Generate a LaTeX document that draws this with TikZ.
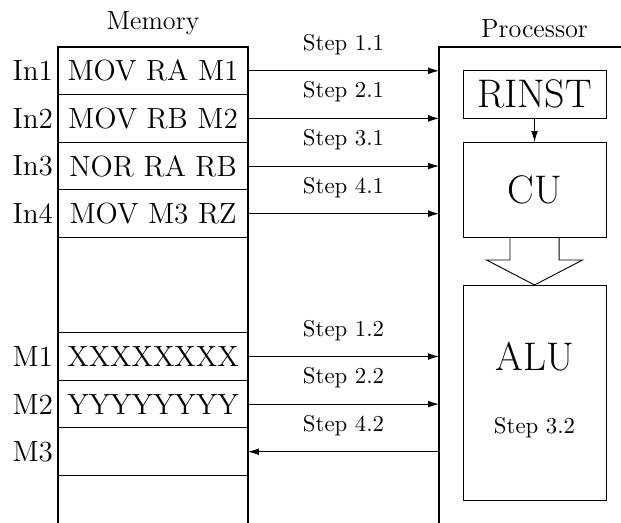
\documentclass[tikz,border=0pt]{standalone}
\usepackage{tikz}
\usetikzlibrary{arrows.meta, positioning, calc}

\begin{document}
\begin{tikzpicture}[
			node distance=0cm,
			cell/.style={rectangle, draw=black, minimum width=2.929cm,
				minimum height=0.734cm, inner sep=0pt, outer sep=0pt,
				font=\fontsize{12.8pt}{15pt}\selectfont},
			blank/.style={rectangle, minimum width=2.929cm,
				minimum height=0.734cm, inner sep=0pt, outer sep=0pt},
			tag/.style={font=\fontsize{12.8pt}{15pt}\selectfont, inner sep=1pt},
			head/.style={font=\fontsize{11.5pt}{13pt}\selectfont},
			unit/.style={rectangle, draw=black, minimum width=2.204cm,
				outer sep=0pt, font=\fontsize{17.5pt}{20pt}\selectfont},
			wall/.style={draw=black, semithick},
			arr/.style={-{Latex[length=4.8pt, width=3pt]}, draw=black},
			steplbl/.style={above=3.5pt}
			]
			\useasboundingbox (0,0) rectangle (9.573,-8.062);
			\coordinate (base) at (0,-8.062);
			\coordinate (proc) at (6.767,-0.7245);
			\coordinate (edge) at (9.573,-0.7245);
			
			% memory
			\node[cell] (in1) at (2.359,-1.0915) {MOV RA M1};
			\node[cell, below=of in1] (in2) {MOV RB M2};
			\node[cell, below=of in2] (in3) {NOR RA RB};
			\node[cell, below=of in3] (in4) {MOV M3 RZ};
			\node[blank, below=of in4] (gapa) {};
			\node[blank, below=of gapa] (gapb) {};
			\node[cell, below=of gapb] (m1) {XXXXXXXX};
			\node[cell, below=of m1] (m2) {YYYYYYYY};
			\node[cell, below=of m2] (m3) {};
			\draw[wall] (in1.north west |- base) -- (in1.north west)
				-- (in1.north east) -- (in1.north east |- base);
			
			\node[tag, left=1pt of in1] (t1) {In1};
			\node[tag, left=1pt of in2] (t2) {In2};
			\node[tag, left=1pt of in3] (t3) {In3};
			\node[tag, left=1pt of in4] (t4) {In4};
			\node[tag, left=1pt of m1] (t5) {M1};
			\node[tag, left=1pt of m2] (t6) {M2};
			\node[tag, left=1pt of m3] (t7) {M3};
			\node[head, above=2pt of in1] (memlbl) {Memory};
			
			% processor
			\draw[wall] (proc |- base) -- (proc) -- (edge);
			\node[unit, minimum height=0.74cm] (rinst) at (8.240,-1.449) {RINST};
			\node[unit, minimum height=1.464cm, below=0.37cm of rinst] (cu) {CU};
			\node[unit, minimum height=3.314cm, below=0.74cm of cu] (alu) {};
			\node[font=\fontsize{17.5pt}{20pt}\selectfont] (alulbl) at ($(alu)+(0,0.55)$) {ALU};
			\node (alustep) at ($(alu)+(0,-0.55)$) {Step 3.2};
			\coordinate (ptop) at (rinst |- proc);
			\node[head, above=0.5pt of ptop] (proclbl) {Processor};
			
			\draw[arr] (rinst) -- (cu);
			\draw ($(cu.south)+(-0.378,0)$) -- ++(0,-0.355) -- ++(-0.362,0)
				-- (alu.north) -- ++(0.74,0.385) -- ++(-0.362,0)
				-- ($(cu.south)+(0.378,0)$);
			
			% transfers
			\draw[arr] (in1.east) -- (in1 -| proc) node[midway, steplbl] (s11) {Step 1.1};
			\draw[arr] (in2.east) -- (in2 -| proc) node[midway, steplbl] (s21) {Step 2.1};
			\draw[arr] (in3.east) -- (in3 -| proc) node[midway, steplbl] (s31) {Step 3.1};
			\draw[arr] (in4.east) -- (in4 -| proc) node[midway, steplbl] (s41) {Step 4.1};
			\draw[arr] (m1.east) -- (m1 -| proc) node[midway, steplbl] (s12) {Step 1.2};
			\draw[arr] (m2.east) -- (m2 -| proc) node[midway, steplbl] (s22) {Step 2.2};
			\draw[arr] (m3 -| proc) -- (m3.east) node[midway, steplbl] (s42) {Step 4.2};
		\end{tikzpicture}
\end{document}
